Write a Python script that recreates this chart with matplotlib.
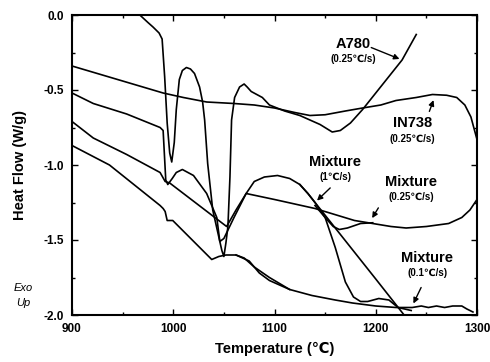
import matplotlib
matplotlib.use("Agg")
import matplotlib.pyplot as plt

plt.rcParams['font.family'] = ['Liberation Sans', 'DejaVu Sans']

# ---- data ----
a780_x = [960, 967, 975, 980, 986, 989, 991.5, 994, 996.5, 998.5, 1001, 1003, 1006, 1009, 1013, 1017, 1021,
          1026, 1029, 1031, 1034, 1039, 1044, 1048, 1050, 1052, 1054, 1056, 1057.6, 1060.6, 1065.5, 1070,
          1073, 1077, 1088, 1095, 1110, 1125, 1135, 1145, 1157, 1165, 1175, 1187, 1200, 1213, 1226, 1240]
a780_y = [0.03, 0.0, -0.05, -0.08, -0.12, -0.16, -0.41, -0.72, -0.92, -0.98, -0.85, -0.63, -0.43, -0.37, -0.35,
          -0.36, -0.39, -0.48, -0.58, -0.70, -0.99, -1.30, -1.45, -1.57, -1.61, -1.52, -1.41, -1.08, -0.70, -0.55,
          -0.48, -0.46, -0.48, -0.51, -0.55, -0.60, -0.64, -0.67, -0.70, -0.73, -0.78, -0.77, -0.72, -0.63,
          -0.52, -0.41, -0.30, -0.13]

in738_x = [900, 920, 950, 975, 990, 1010, 1033, 1060, 1080, 1100, 1120, 1135, 1150, 1170, 1187, 1205,
           1220, 1240, 1256, 1270, 1280, 1288, 1294, 1300]
in738_y = [-0.34, -0.38, -0.44, -0.49, -0.52, -0.55, -0.58, -0.59, -0.60, -0.62, -0.65, -0.67, -0.665,
           -0.64, -0.62, -0.60, -0.57, -0.55, -0.53, -0.535, -0.55, -0.60, -0.68, -0.83]

mix1_x = [900, 921, 954, 987, 990, 992.6, 994.6, 999, 1003, 1009, 1020, 1033, 1043, 1046, 1050, 1060,
          1072, 1080, 1090, 1103, 1115, 1125, 1133, 1140, 1150, 1160, 1170, 1178, 1185, 1192, 1203, 1213,
          1222, 1235]
mix1_y = [-0.52, -0.59, -0.66, -0.75, -0.77, -1.10, -1.13, -1.09, -1.05, -1.03, -1.07, -1.19, -1.35, -1.51,
          -1.49, -1.35, -1.19, -1.11, -1.08, -1.07, -1.09, -1.13, -1.19, -1.25, -1.35, -1.55, -1.78, -1.88,
          -1.91, -1.91, -1.89, -1.90, -1.95, -1.97]

mix025_x = [900, 921, 954, 987, 992, 996.5, 1052.7, 1062, 1072, 1100, 1140, 1179, 1197, 1215, 1230, 1250,
            1272, 1285, 1293, 1300]
mix025_y = [-0.71, -0.82, -0.93, -1.05, -1.11, -1.12, -1.41, -1.30, -1.19, -1.23, -1.29, -1.37, -1.39,
            -1.41, -1.42, -1.41, -1.39, -1.35, -1.30, -1.23]

mix01_x = [900, 937, 987, 990, 992, 994, 999.5, 1038, 1045, 1052, 1062, 1070, 1080, 1095, 1115, 1137, 1160,
           1177, 1200, 1220, 1236, 1245, 1252, 1260, 1268, 1276, 1285, 1290, 1296]
mix01_y = [-0.87, -1.00, -1.27, -1.29, -1.31, -1.37, -1.37, -1.63, -1.61, -1.60, -1.60, -1.62, -1.68, -1.75,
           -1.83, -1.87, -1.90, -1.92, -1.94, -1.95, -1.95, -1.94, -1.95, -1.94, -1.95, -1.94, -1.94, -1.96,
           -1.98]

# secondary traces that split off from the main curves
trace_b_x = [1125, 1133, 1140, 1150, 1200, 1228, 1236]
trace_b_y = [-1.13, -1.19, -1.25, -1.335, -1.76, -2.00, -2.07]

trace_c_x = [1140, 1150, 1158, 1164, 1172, 1185, 1197]
trace_c_y = [-1.27, -1.35, -1.41, -1.43, -1.42, -1.39, -1.385]

trace_d_x = [1062, 1075, 1085, 1095, 1105, 1115]
trace_d_y = [-1.60, -1.64, -1.72, -1.77, -1.80, -1.83]

x_ticks = [900, 1000, 1100, 1200, 1300]
y_ticks = [0.0, -0.5, -1.0, -1.5, -2.0]
x_ticklabels = ['900', '1000', '1100', '1200', '1300']
y_ticklabels = ['0.0', '-0.5', '-1.0', '-1.5', '-2.0']

# ---- figure ----
fig = plt.figure(figsize=(4.90, 3.62), dpi=100)
ax = fig.add_axes([72/490, 1 - 315/362, (477-72)/490, (315-15)/362])

lw = 1.2
for xs, ys in [(a780_x, a780_y), (in738_x, in738_y), (mix1_x, mix1_y), (mix025_x, mix025_y),
               (mix01_x, mix01_y), (trace_b_x, trace_b_y), (trace_c_x, trace_c_y), (trace_d_x, trace_d_y)]:
    ax.plot(xs, ys, color='black', lw=lw, solid_joinstyle='round')

ax.set_xlim(900, 1300)
ax.set_ylim(-2.0, 0.0)
ax.set_xticks(x_ticks)
ax.set_xticklabels(x_ticklabels, fontsize=8.5, fontweight='bold')
ax.set_yticks(y_ticks)
ax.set_yticklabels(y_ticklabels, fontsize=8.5, fontweight='bold')
ax.set_xticks([950, 1050, 1150, 1250], minor=True)
ax.set_yticks([-0.25, -0.75, -1.25, -1.75], minor=True)
ax.tick_params(which='both', direction='in', top=True, right=True, width=1.0)
ax.tick_params(which='major', length=4, pad=6)
ax.tick_params(which='minor', length=2.5)
for s in ax.spines.values():
    s.set_linewidth(1.5)

ax.set_xlabel('Temperature (\u2103)', fontsize=10.5, fontweight='bold', labelpad=5)
ax.set_ylabel('Heat Flow (W/g)', fontsize=10.5, fontweight='bold', labelpad=12)

fig.text(23/490, 1 - 288/362, 'Exo', ha='center', va='center', fontsize=8, style='italic')
fig.text(23/490, 1 - 303/362, 'Up', ha='center', va='center', fontsize=8, style='italic')

def label(name, rate, x, y, dy, tail, head):
    ax.text(x, y, name, ha='center', va='center', fontsize=10.5, fontweight='bold')
    ax.text(x, y - dy, rate, ha='center', va='center', fontsize=7, fontweight='bold')
    ax.annotate('', xy=head, xytext=tail,
                arrowprops=dict(arrowstyle='-|>', color='black', lw=1.0, mutation_scale=8))

label('A780', '(0.25\u2103/s)', 1178, -0.19, 0.105, (1193, -0.21), (1226, -0.30))
label('IN738', '(0.25\u2103/s)', 1236, -0.72, 0.105, (1252, -0.66), (1258, -0.55))
label('Mixture', '(1\u2103/s)', 1160, -0.98, 0.10, (1157, -1.14), (1140, -1.25))
label('Mixture', '(0.25\u2103/s)', 1235, -1.11, 0.10, (1204, -1.27), (1195, -1.37))
label('Mixture', '(0.1\u2103/s)', 1251, -1.62, 0.10, (1246, -1.80), (1236, -1.94))

fig.savefig('out.png', dpi=100)
